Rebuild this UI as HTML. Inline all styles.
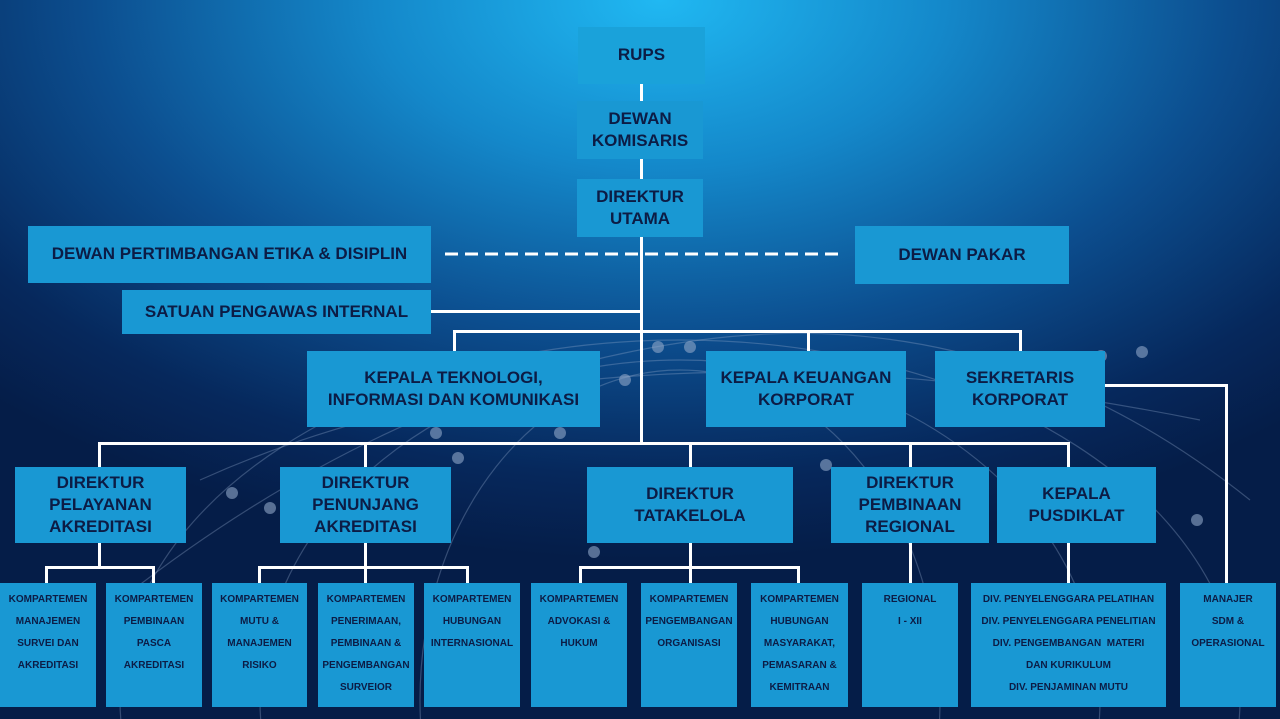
<!DOCTYPE html>
<html><head><meta charset="utf-8"><style>
html,body{margin:0;padding:0}
html{width:1280px;height:719px;overflow:hidden}
body{width:1280px;height:719px;position:relative;overflow:hidden;
background:radial-gradient(ellipse 950px 560px at 660px 0px,#20b8f2 0%,#1488ca 30%,#0c4e8f 60%,#06285c 85%,#051d48 100%);
font-family:"Liberation Sans",sans-serif;font-weight:bold;color:#0c1c45}
.b{position:absolute;background:#1998d3;display:flex;align-items:center;justify-content:center;text-align:center;box-sizing:border-box;line-height:1.3}
.m{font-size:17px}
.s{font-size:10px;line-height:22px;align-items:flex-start;padding-top:6px}
.l{position:absolute;background:#fff}
</style></head><body>
<svg width="1280" height="719" style="position:absolute;left:0;top:0;overflow:hidden" fill="none" stroke="#8fa6c8" stroke-opacity="0.35" stroke-width="1.2">
<ellipse cx="680" cy="700" rx="560" ry="360"/>
<ellipse cx="680" cy="700" rx="420" ry="340"/>
<ellipse cx="680" cy="700" rx="260" ry="330"/>
<path d="M120 600 Q400 380 700 340 T1250 500"/>
<path d="M200 480 Q600 300 1200 420"/>
<g fill="#8fa6c8" fill-opacity="0.6" stroke="none">
<circle cx="658" cy="347" r="6"/><circle cx="690" cy="347" r="6"/><circle cx="625" cy="380" r="6"/><circle cx="436" cy="433" r="6"/><circle cx="458" cy="458" r="6"/><circle cx="560" cy="433" r="6"/><circle cx="826" cy="465" r="6"/><circle cx="232" cy="493" r="6"/><circle cx="270" cy="508" r="6"/><circle cx="594" cy="552" r="6"/><circle cx="1197" cy="520" r="6"/><circle cx="1142" cy="352" r="6"/><circle cx="1101" cy="356" r="6"/>
</g></svg>

<div class="l" style="left:640px;top:84px;width:3px;height:360px"></div>
<div class="l" style="left:430px;top:310px;width:212px;height:3px"></div>
<div class="l" style="left:453px;top:330px;width:569px;height:3px"></div>
<div class="l" style="left:453px;top:330px;width:3px;height:22px"></div>
<div class="l" style="left:807px;top:330px;width:3px;height:22px"></div>
<div class="l" style="left:1019px;top:330px;width:3px;height:22px"></div>
<div class="l" style="left:1104px;top:384px;width:124px;height:3px"></div>
<div class="l" style="left:1225px;top:384px;width:3px;height:200px"></div>
<div class="l" style="left:98px;top:442px;width:972px;height:3px"></div>
<div class="l" style="left:98px;top:442px;width:3px;height:26px"></div>
<div class="l" style="left:364px;top:442px;width:3px;height:26px"></div>
<div class="l" style="left:689px;top:442px;width:3px;height:26px"></div>
<div class="l" style="left:909px;top:442px;width:3px;height:26px"></div>
<div class="l" style="left:1067px;top:442px;width:3px;height:26px"></div>
<div class="l" style="left:98px;top:542px;width:3px;height:26px"></div>
<div class="l" style="left:45px;top:566px;width:110px;height:3px"></div>
<div class="l" style="left:45px;top:566px;width:3px;height:18px"></div>
<div class="l" style="left:152px;top:566px;width:3px;height:18px"></div>
<div class="l" style="left:364px;top:542px;width:3px;height:42px"></div>
<div class="l" style="left:258px;top:566px;width:211px;height:3px"></div>
<div class="l" style="left:258px;top:566px;width:3px;height:18px"></div>
<div class="l" style="left:466px;top:566px;width:3px;height:18px"></div>
<div class="l" style="left:689px;top:542px;width:3px;height:42px"></div>
<div class="l" style="left:579px;top:566px;width:221px;height:3px"></div>
<div class="l" style="left:579px;top:566px;width:3px;height:18px"></div>
<div class="l" style="left:797px;top:566px;width:3px;height:18px"></div>
<div class="l" style="left:909px;top:542px;width:3px;height:42px"></div>
<div class="l" style="left:1067px;top:542px;width:3px;height:42px"></div>
<svg width="1280" height="719" style="position:absolute;left:0;top:0"><line x1="445" y1="254" x2="845" y2="254" stroke="#fff" stroke-width="3" stroke-dasharray="13,7"/></svg>

<div class="b m" style="left:578px;top:27px;width:127px;height:57px;background:#1aa2da">RUPS</div>
<div class="b m" style="left:577px;top:101px;width:126px;height:58px">DEWAN<br>KOMISARIS</div>
<div class="b m" style="left:577px;top:179px;width:126px;height:58px">DIREKTUR<br>UTAMA</div>
<div class="b m" style="left:28px;top:226px;width:403px;height:57px">DEWAN PERTIMBANGAN ETIKA &amp; DISIPLIN</div>
<div class="b m" style="left:855px;top:226px;width:214px;height:58px">DEWAN PAKAR</div>
<div class="b m" style="left:122px;top:290px;width:309px;height:44px">SATUAN PENGAWAS INTERNAL</div>
<div class="b m" style="left:307px;top:351px;width:293px;height:76px">KEPALA TEKNOLOGI,<br>INFORMASI DAN KOMUNIKASI</div>
<div class="b m" style="left:706px;top:351px;width:200px;height:76px">KEPALA KEUANGAN<br>KORPORAT</div>
<div class="b m" style="left:935px;top:351px;width:170px;height:76px">SEKRETARIS<br>KORPORAT</div>
<div class="b m" style="left:15px;top:467px;width:171px;height:76px">DIREKTUR<br>PELAYANAN<br>AKREDITASI</div>
<div class="b m" style="left:280px;top:467px;width:171px;height:76px">DIREKTUR<br>PENUNJANG<br>AKREDITASI</div>
<div class="b m" style="left:587px;top:467px;width:206px;height:76px">DIREKTUR<br>TATAKELOLA</div>
<div class="b m" style="left:831px;top:467px;width:158px;height:76px">DIREKTUR<br>PEMBINAAN<br>REGIONAL</div>
<div class="b m" style="left:997px;top:467px;width:159px;height:76px">KEPALA<br>PUSDIKLAT</div>

<div class="b s" style="left:0px;top:583px;width:96px;height:124px">KOMPARTEMEN<br>MANAJEMEN<br>SURVEI DAN<br>AKREDITASI</div>
<div class="b s" style="left:106px;top:583px;width:96px;height:124px">KOMPARTEMEN<br>PEMBINAAN<br>PASCA<br>AKREDITASI</div>
<div class="b s" style="left:212px;top:583px;width:95px;height:124px">KOMPARTEMEN<br>MUTU &amp;<br>MANAJEMEN<br>RISIKO</div>
<div class="b s" style="left:318px;top:583px;width:96px;height:124px">KOMPARTEMEN<br>PENERIMAAN,<br>PEMBINAAN &amp;<br>PENGEMBANGAN<br>SURVEIOR</div>
<div class="b s" style="left:424px;top:583px;width:96px;height:124px">KOMPARTEMEN<br>HUBUNGAN<br>INTERNASIONAL</div>
<div class="b s" style="left:531px;top:583px;width:96px;height:124px">KOMPARTEMEN<br>ADVOKASI &amp;<br>HUKUM</div>
<div class="b s" style="left:641px;top:583px;width:96px;height:124px">KOMPARTEMEN<br>PENGEMBANGAN<br>ORGANISASI</div>
<div class="b s" style="left:751px;top:583px;width:97px;height:124px">KOMPARTEMEN<br>HUBUNGAN<br>MASYARAKAT,<br>PEMASARAN &amp;<br>KEMITRAAN</div>
<div class="b s" style="left:862px;top:583px;width:96px;height:124px">REGIONAL<br>I - XII</div>
<div class="b s" style="left:971px;top:583px;width:195px;height:124px">DIV. PENYELENGGARA PELATIHAN<br>DIV. PENYELENGGARA PENELITIAN<br>DIV. PENGEMBANGAN &nbsp;MATERI<br>DAN KURIKULUM<br>DIV. PENJAMINAN MUTU</div>
<div class="b s" style="left:1180px;top:583px;width:96px;height:124px">MANAJER<br>SDM &amp;<br>OPERASIONAL</div>
</body></html>
